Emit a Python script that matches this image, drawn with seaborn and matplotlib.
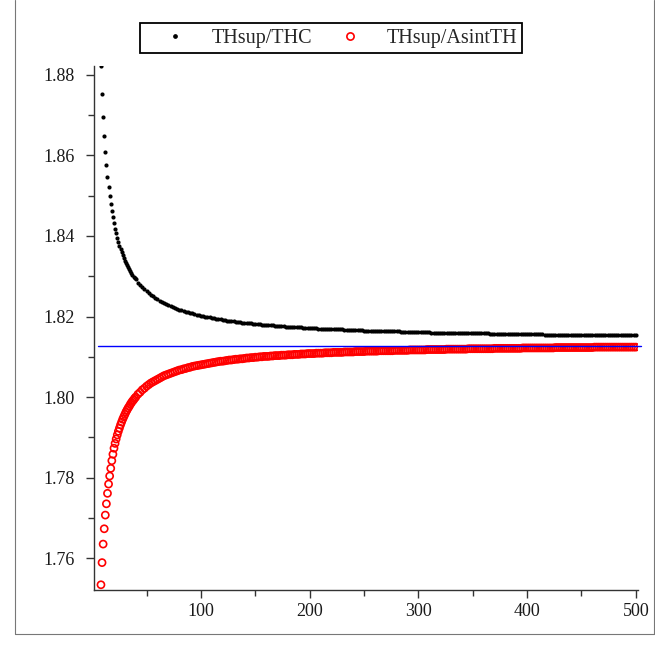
import matplotlib
matplotlib.use("Agg")
import matplotlib.pyplot as plt
from matplotlib.lines import Line2D
from matplotlib.ticker import MultipleLocator, FormatStrFormatter
import pandas as pd
import seaborn as sns

# sample index n
n_values = list(range(8, 41)) + list(range(42, 101, 2)) + list(range(102, 501, 2))

# THsup/THC
ratio_thc = [
    # n = 8 .. 40
    1.8821, 1.8752, 1.8696, 1.8649, 1.8609, 1.8575, 1.8547, 1.8521, 1.8500, 1.8479,
    1.8461, 1.8446, 1.8432, 1.8418, 1.8407, 1.8396, 1.8385, 1.8376, 1.8367, 1.8360,
    1.8352, 1.8345, 1.8338, 1.8332, 1.8327, 1.8322, 1.8317, 1.8312, 1.8307, 1.8303,
    1.8299, 1.8295, 1.8292,
    # n = 42 .. 100
    1.8284, 1.8279, 1.8273, 1.8268, 1.8263, 1.8258, 1.8254, 1.8250, 1.8246, 1.8243,
    1.8239, 1.8236, 1.8234, 1.8231, 1.8228, 1.8226, 1.8224, 1.8221, 1.8219, 1.8217,
    1.8216, 1.8214, 1.8212, 1.8211, 1.8209, 1.8208, 1.8206, 1.8205, 1.8203, 1.8202,
    # n = 102 .. 500
    1.8201, 1.8200, 1.8199, 1.8198, 1.8197, 1.8196, 1.8195, 1.8194, 1.8193, 1.8192,
    1.8191, 1.8190, 1.8190, 1.8189, 1.8188, 1.8187, 1.8187, 1.8186, 1.8185, 1.8185,
    1.8184, 1.8184, 1.8183, 1.8182, 1.8182, 1.8181, 1.8181, 1.8180, 1.8180, 1.8179,
    1.8179, 1.8178, 1.8178, 1.8177, 1.8177, 1.8177, 1.8176, 1.8176, 1.8175, 1.8175,
    1.8175, 1.8174, 1.8174, 1.8174, 1.8173, 1.8173, 1.8172, 1.8172, 1.8172, 1.8172,
    1.8171, 1.8171, 1.8171, 1.8170, 1.8170, 1.8170, 1.8170, 1.8169, 1.8169, 1.8169,
    1.8168, 1.8168, 1.8168, 1.8168, 1.8168, 1.8167, 1.8167, 1.8167, 1.8167, 1.8166,
    1.8166, 1.8166, 1.8166, 1.8166, 1.8165, 1.8165, 1.8165, 1.8165, 1.8165, 1.8164,
    1.8164, 1.8164, 1.8164, 1.8164, 1.8164, 1.8163, 1.8163, 1.8163, 1.8163, 1.8163,
    1.8163, 1.8162, 1.8162, 1.8162, 1.8162, 1.8162, 1.8162, 1.8162, 1.8161, 1.8161,
    1.8161, 1.8161, 1.8161, 1.8161, 1.8161, 1.8160, 1.8160, 1.8160, 1.8160, 1.8160,
    1.8160, 1.8160, 1.8160, 1.8159, 1.8159, 1.8159, 1.8159, 1.8159, 1.8159, 1.8159,
    1.8159, 1.8159, 1.8158, 1.8158, 1.8158, 1.8158, 1.8158, 1.8158, 1.8158, 1.8158,
    1.8158, 1.8158, 1.8157, 1.8157, 1.8157, 1.8157, 1.8157, 1.8157, 1.8157, 1.8157,
    1.8157, 1.8157, 1.8157, 1.8157, 1.8156, 1.8156, 1.8156, 1.8156, 1.8156, 1.8156,
    1.8156, 1.8156, 1.8156, 1.8156, 1.8156, 1.8156, 1.8156, 1.8155, 1.8155, 1.8155,
    1.8155, 1.8155, 1.8155, 1.8155, 1.8155, 1.8155, 1.8155, 1.8155, 1.8155, 1.8155,
    1.8155, 1.8155, 1.8154, 1.8154, 1.8154, 1.8154, 1.8154, 1.8154, 1.8154, 1.8154,
    1.8154, 1.8154, 1.8154, 1.8154, 1.8154, 1.8154, 1.8154, 1.8154, 1.8154, 1.8153,
    1.8153, 1.8153, 1.8153, 1.8153, 1.8153, 1.8153, 1.8153, 1.8153, 1.8153, 1.8153,
]

# THsup/AsintTH
ratio_asint = [
    # n = 8 .. 40
    1.7534, 1.7589, 1.7635, 1.7673, 1.7707, 1.7735, 1.7761, 1.7784, 1.7804, 1.7823,
    1.7842, 1.7858, 1.7873, 1.7885, 1.7896, 1.7906, 1.7915, 1.7923, 1.7931, 1.7938,
    1.7945, 1.7951, 1.7957, 1.7963, 1.7968, 1.7973, 1.7977, 1.7982, 1.7986, 1.7990,
    1.7993, 1.7997, 1.8000,
    # n = 42 .. 100
    1.8007, 1.8012, 1.8018, 1.8022, 1.8027, 1.8031, 1.8035, 1.8038, 1.8041, 1.8044,
    1.8047, 1.8050, 1.8053, 1.8055, 1.8057, 1.8059, 1.8061, 1.8063, 1.8065, 1.8067,
    1.8068, 1.8070, 1.8071, 1.8073, 1.8074, 1.8076, 1.8077, 1.8078, 1.8079, 1.8080,
    # n = 102 .. 500
    1.8081, 1.8082, 1.8083, 1.8084, 1.8085, 1.8086, 1.8087, 1.8088, 1.8089, 1.8089,
    1.8090, 1.8091, 1.8092, 1.8092, 1.8093, 1.8094, 1.8094, 1.8095, 1.8095, 1.8096,
    1.8097, 1.8097, 1.8098, 1.8098, 1.8099, 1.8099, 1.8100, 1.8100, 1.8101, 1.8101,
    1.8101, 1.8102, 1.8102, 1.8103, 1.8103, 1.8103, 1.8104, 1.8104, 1.8104, 1.8105,
    1.8105, 1.8105, 1.8106, 1.8106, 1.8106, 1.8107, 1.8107, 1.8107, 1.8108, 1.8108,
    1.8108, 1.8108, 1.8109, 1.8109, 1.8109, 1.8109, 1.8110, 1.8110, 1.8110, 1.8110,
    1.8111, 1.8111, 1.8111, 1.8111, 1.8111, 1.8112, 1.8112, 1.8112, 1.8112, 1.8112,
    1.8113, 1.8113, 1.8113, 1.8113, 1.8113, 1.8114, 1.8114, 1.8114, 1.8114, 1.8114,
    1.8114, 1.8115, 1.8115, 1.8115, 1.8115, 1.8115, 1.8115, 1.8115, 1.8116, 1.8116,
    1.8116, 1.8116, 1.8116, 1.8116, 1.8116, 1.8117, 1.8117, 1.8117, 1.8117, 1.8117,
    1.8117, 1.8117, 1.8117, 1.8118, 1.8118, 1.8118, 1.8118, 1.8118, 1.8118, 1.8118,
    1.8118, 1.8118, 1.8119, 1.8119, 1.8119, 1.8119, 1.8119, 1.8119, 1.8119, 1.8119,
    1.8119, 1.8119, 1.8120, 1.8120, 1.8120, 1.8120, 1.8120, 1.8120, 1.8120, 1.8120,
    1.8120, 1.8120, 1.8120, 1.8120, 1.8121, 1.8121, 1.8121, 1.8121, 1.8121, 1.8121,
    1.8121, 1.8121, 1.8121, 1.8121, 1.8121, 1.8121, 1.8121, 1.8122, 1.8122, 1.8122,
    1.8122, 1.8122, 1.8122, 1.8122, 1.8122, 1.8122, 1.8122, 1.8122, 1.8122, 1.8122,
    1.8122, 1.8122, 1.8123, 1.8123, 1.8123, 1.8123, 1.8123, 1.8123, 1.8123, 1.8123,
    1.8123, 1.8123, 1.8123, 1.8123, 1.8123, 1.8123, 1.8123, 1.8123, 1.8123, 1.8123,
    1.8124, 1.8124, 1.8124, 1.8124, 1.8124, 1.8124, 1.8124, 1.8124, 1.8124, 1.8124,
    1.8124, 1.8124, 1.8124, 1.8124, 1.8124, 1.8124, 1.8124, 1.8124, 1.8124, 1.8124,
]

# horizontal reference level
limit_x = [5, 505]
limit_y = [1.8128, 1.8128]

series_labels = ["THsup/THC", "THsup/AsintTH"]
y_ticks = [1.76, 1.78, 1.80, 1.82, 1.84, 1.86, 1.88]
x_ticks = [100, 200, 300, 400, 500]

df = pd.DataFrame({"n": n_values, "thc": ratio_thc, "asint": ratio_asint})
ref = pd.DataFrame({"x": limit_x, "y": limit_y})

sns.set_style("ticks")
plt.rcParams["font.family"] = ["Liberation Serif", "DejaVu Serif"]

W, H = 655, 659
fig = plt.figure(figsize=(W / 100, H / 100), dpi=100)
ax = fig.add_axes([94 / W, (H - 590) / H, 544 / W, 524 / H])

sns.scatterplot(data=df, x="n", y="thc", ax=ax, color="black", marker="o",
                s=9, linewidth=0, zorder=3, legend=False)
sns.scatterplot(data=df, x="n", y="asint", ax=ax, color="red", marker="o",
                facecolors="none", edgecolor="#ff0000", s=26, linewidth=1.2,
                zorder=4, legend=False)
sns.lineplot(data=ref, x="x", y="y", ax=ax, color="#0000ff", linewidth=1.0,
             zorder=5, clip_on=False)

ax.set_xlim(1.6, 502)
ax.set_ylim(1.7521, 1.8822)
ax.set_xlabel("")
ax.set_ylabel("")

ax.set_xticks(x_ticks)
ax.xaxis.set_minor_locator(MultipleLocator(50))
ax.set_yticks(y_ticks)
ax.yaxis.set_minor_locator(MultipleLocator(0.01))
ax.yaxis.set_major_formatter(FormatStrFormatter("%.2f"))

for side in ("top", "right"):
    ax.spines[side].set_visible(False)
for side in ("left", "bottom"):
    ax.spines[side].set_color("#333333")
    ax.spines[side].set_linewidth(1.0)

ax.tick_params(axis="both", which="major", direction="out", length=6, width=1.0,
               color="#333333", labelsize=13, labelcolor="#1a1a1a")
ax.tick_params(axis="both", which="minor", direction="out", length=4, width=1.0,
               color="#333333")
ax.tick_params(axis="y", which="major", pad=8)
ax.tick_params(axis="x", which="major", pad=3)

handles = [
    Line2D([], [], linestyle="none", marker="o", markersize=2.4,
           markerfacecolor="black", markeredgecolor="black"),
    Line2D([], [], linestyle="none", marker="o", markersize=5.2,
           markerfacecolor="none", markeredgecolor="#ff0000", markeredgewidth=1.2),
]
leg = fig.legend(handles, series_labels, loc="center",
                 bbox_to_anchor=(331 / W, 1 - 38 / H), ncol=2, fontsize=14.5,
                 frameon=True, fancybox=False, framealpha=1,
                 borderpad=0.25, handlelength=3.0, handletextpad=0.3,
                 columnspacing=0.4, borderaxespad=0)
leg.get_frame().set_edgecolor("black")
leg.get_frame().set_linewidth(1.3)

# worksheet border
for xs, ys in (([15, 15], [0, 634]), ([15, 654], [634, 634]), ([654, 654], [0, 634])):
    fig.add_artist(Line2D([x / W for x in xs], [1 - y / H for y in ys],
                          color="#777777", linewidth=0.8))

fig.savefig("out.png", dpi=100)
